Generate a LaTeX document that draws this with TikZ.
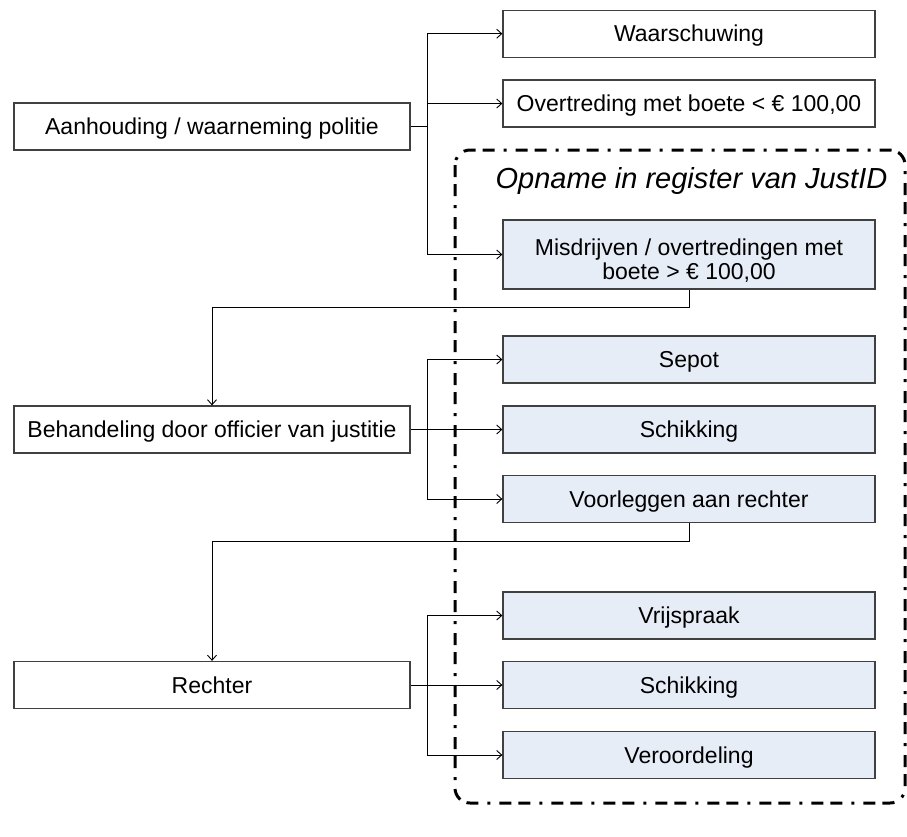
\documentclass[tikz,border=0pt]{standalone}
\usepackage{fontspec}
\setmainfont{Liberation Sans}
\usetikzlibrary{arrows.meta}
\definecolor{boxfill}{RGB}{230,237,247}
\definecolor{boxline}{RGB}{64,64,64}
\begin{document}
\begin{tikzpicture}[x=1pt,y=-1pt,
  base/.style={draw=boxline, line width=1.3pt, inner sep=0pt, font=\fontsize{23}{24}\selectfont},
  one/.style={text height=16.5pt, text depth=0pt},
  lbox/.style={base, one, fill=white, minimum width=396pt, minimum height=47pt},
  rbox/.style={base, one, fill=white, minimum width=372pt, minimum height=47pt},
  bbox/.style={rbox, fill=boxfill},
  conn/.style={line width=0.9pt, black},
  arr/.style={conn, -{Straight Barb[length=5pt,width=9pt]}},
  region/.style={line width=3pt, rounded corners=15pt, dash pattern=on 12pt off 7pt on 12pt off 9pt on 3pt off 9pt}
]
\useasboundingbox (0,0) rectangle (907,836);

% left column
\node[lbox] (aan)  at (212,126.5) {Aanhouding / waarneming politie};
\node[lbox] (beh)  at (212,429.5) {Behandeling door officier van justitie};
\node[lbox] (rech) at (212,685)   {Rechter};

% right column
\node[rbox] (waar) at (689,33.7)  {Waarschuwing};
\node[rbox] (over) at (689,103.5) {Overtreding met boete < € 100,00};
\node[base, fill=boxfill, minimum width=372pt, minimum height=69pt] (mis) at (689,254.5) {};
\node[inner sep=0pt, align=center, font=\fontsize{23}{24}\selectfont] (mistext) at (689,260.4)
  {Misdrijven / overtredingen met\\boete > € 100,00};
\node[bbox] (sep)  at (689,359.5) {Sepot};
\node[bbox] (sch1) at (689,429.5) {Schikking};
\node[bbox] (voor) at (689,499)   {Voorleggen aan rechter};
\node[bbox] (vrij) at (689,615.5) {Vrijspraak};
\node[bbox] (sch2) at (689,685)   {Schikking};
\node[bbox] (ver)  at (689,755)   {Veroordeling};

% junctions
\coordinate (j1) at (427,126.5);
\coordinate (j2) at (427,429.5);
\coordinate (j3) at (427,685);

% connectors
\draw[conn] (aan.east) -- (j1);
\draw[arr] (j1) |- (waar.west);
\draw[arr] (j1) |- (over.west);
\draw[arr] (j1) |- (mis.west);
\draw[arr] (mis.south) -- ++(0,18) -| (beh.north);

\draw[conn] (beh.east) -- (j2);
\draw[arr] (j2) |- (sep.west);
\draw[arr] (j2) -- (sch1.west);
\draw[arr] (j2) |- (voor.west);
\draw[arr] (voor.south) -- ++(0,18) -| (rech.north);

\draw[conn] (rech.east) -- (j3);
\draw[arr] (j3) |- (vrij.west);
\draw[arr] (j3) -- (sch2.west);
\draw[arr] (j3) |- (ver.west);

% register region
\draw[region] (455,150) rectangle (905,803);
\node[anchor=base, font=\fontsize{29}{32}\selectfont\itshape, inner sep=0pt] (title) at (691.5,188) {Opname in register van JustID};
\end{tikzpicture}
\end{document}
